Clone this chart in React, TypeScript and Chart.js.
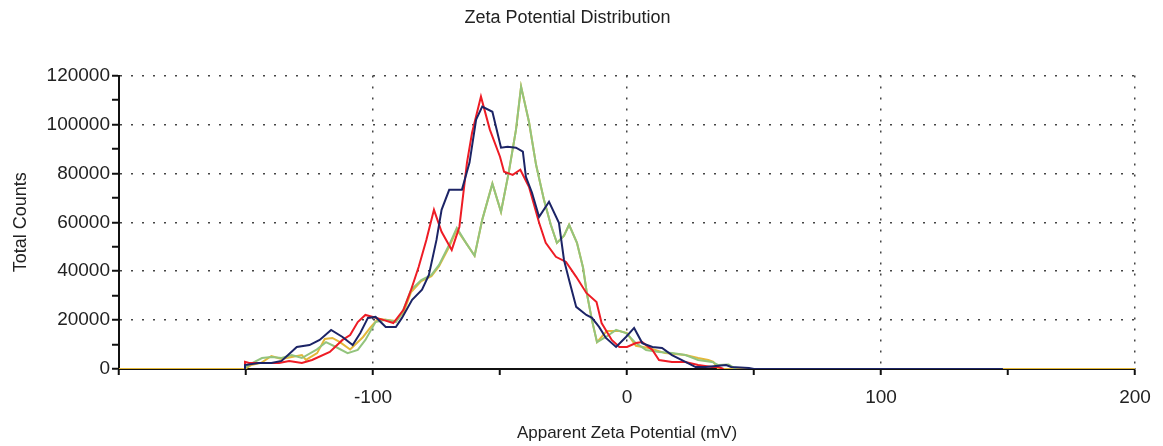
import { useEffect, useRef } from 'react';
import { Chart, registerables } from 'chart.js';

Chart.register(...registerables);

const TITLE = 'Zeta Potential Distribution';
const X_TITLE = 'Apparent Zeta Potential (mV)';
const Y_TITLE = 'Total Counts';

const X_MIN = -200;
const X_MAX = 200;
const X_TICK_STEP = 50;
const X_LABEL_VALUES = [-100, 0, 100, 200];
const X_GRID_VALUES = [-100, 0, 100, 200];

const Y_MIN = 0;
const Y_MAX = 120000;
const Y_TICK_STEP = 10000;
const Y_LABEL_VALUES = [0, 20000, 40000, 60000, 80000, 100000, 120000];
const Y_GRID_VALUES = [20000, 40000, 60000, 80000, 100000, 120000];

const navyX = [-150.5, -150.4, -145, -140, -136, -130, -125, -121, -116.5, -112, -108, -105, -102, -99, -95, -91, -88.6, -84.6, -80.7, -78, -75, -73, -70, -65, -62, -59.4, -57, -53, -49.6, -47, -43.7, -41, -39.8, -37.4, -34.6, -30.7, -26.8, -24.8, -22.8, -20, -16, -13.8, -11, -8.3, -4.3, -0.4, 2.8, 6, 10, 13.8, 17.7, 23, 27, 31, 35, 39, 41, 48, 50, 148];
const navyY = [0, 1600, 2450, 2450, 3300, 9000, 9800, 11900, 16000, 13100, 9800, 14700, 20900, 21300, 17200, 17200, 20900, 28300, 32400, 38500, 52800, 65100, 73300, 73300, 84400, 102000, 107300, 105200, 90500, 90900, 90500, 88900, 78600, 72100, 62200, 68400, 59800, 44600, 36400, 25400, 22100, 20900, 17200, 12700, 9000, 13100, 16800, 10600, 9000, 8600, 5700, 2900, 800, 800, 1200, 1600, 800, 400, 0, 0];

const redX = [-150.5, -150.4, -148.8, -137, -133, -128, -124, -117, -112, -109, -106, -103, -100, -96, -92, -88, -85, -82, -79, -76, -73, -69, -66, -63, -61, -57.5, -54, -50, -48.4, -45, -42, -38.6, -34.6, -32, -28, -24, -20, -16, -12, -10, -6, -3, 0, 3.5, 6, 10, 12.6, 17.7, 23, 28, 33.5, 36, 38];
const redY = [0, 2900, 2450, 2450, 3300, 2450, 3700, 7000, 11900, 13900, 19200, 22100, 21300, 20100, 18800, 24200, 32400, 41800, 52800, 65100, 56100, 48700, 58100, 84400, 96600, 111400, 97900, 86800, 80700, 79400, 81500, 74500, 59800, 51600, 45900, 43800, 37700, 31100, 27400, 18800, 11900, 9000, 9000, 10600, 11000, 7800, 3700, 2900, 2900, 1600, 800, 800, 0];

const greenX = [-150.5, -150, -147.6, -143.7, -140, -136, -132, -128, -122.4, -118.5, -114.6, -110, -106, -103, -99, -95, -91, -88.6, -85, -81, -77, -74, -70, -67, -63.4, -60, -57, -53, -49.6, -46.5, -43.7, -41.7, -38.6, -35.8, -32.7, -30, -27.6, -24.8, -22.8, -19.7, -17.3, -15.7, -13.8, -11.8, -8.3, -4.3, -0.4, 3.5, 7.5, 12.6, 17.7, 23, 28, 33.5, 36, 40, 43];
const greenY = [0, 800, 2450, 4500, 4900, 4500, 5700, 4500, 7800, 11000, 9000, 6500, 7800, 11900, 19200, 20100, 19200, 22900, 32400, 36400, 38500, 42600, 50800, 57700, 51600, 46300, 61000, 75800, 64300, 80700, 97900, 115500, 101100, 83500, 69200, 59000, 51600, 54500, 59000, 51600, 41400, 30300, 20000, 11000, 13100, 16000, 14700, 10600, 7800, 7000, 6500, 5700, 3700, 2900, 1600, 1800, 0];

const yellowX = [-200, -150.5, -148, -144, -140, -136, -132, -128, -126.4, -122, -119, -116, -113, -109, -104, -101, -98, -95, -91, -88, -85, -81, -77, -74, -70, -67, -63.4, -60, -57, -53, -49.6, -46.5, -43.7, -41.7, -38.6, -35.8, -32.7, -30, -27.6, -24.8, -22.8, -19.7, -17.3, -15.7, -13.8, -11.8, -8, -3, 0, 3.5, 9, 15, 23, 28, 32, 34, 36, 200];
const yellowY = [0, 0, 1600, 2500, 5300, 4100, 4900, 5700, 3700, 6500, 12300, 12700, 11000, 8000, 13000, 17000, 20500, 20100, 19600, 23000, 31500, 36000, 38000, 42000, 50000, 57000, 51600, 46300, 61000, 75800, 64300, 80700, 97900, 115500, 101100, 83500, 69200, 59000, 51600, 54500, 59000, 51600, 41400, 30300, 20000, 11000, 15500, 15500, 14700, 9500, 8500, 6500, 5700, 4500, 3700, 2900, 0, 0];

const SERIES = [
  { name: 'Run 1', xs: navyX, ys: navyY, color: '#1c2466' },
  { name: 'Run 2', xs: redX, ys: redY, color: '#ee1c25' },
  { name: 'Run 3', xs: greenX, ys: greenY, color: '#93c47d' },
  { name: 'Run 4', xs: yellowX, ys: yellowY, color: '#e3b83a' },
];

const FONT = 'Liberation Sans, Arial, sans-serif';

export default function App() {
  const ref = useRef<HTMLCanvasElement>(null);

  useEffect(() => {
    document.body.style.margin = '0';
    document.body.style.overflow = 'hidden';
    const canvas = ref.current;
    if (!canvas) return;
    const chart = new Chart(canvas, {
      type: 'scatter',
      data: {
        datasets: SERIES.map((s) => ({
          label: s.name,
          data: s.xs.map((x, i) => ({ x, y: s.ys[i] })),
          showLine: true,
          borderColor: s.color,
          backgroundColor: s.color,
          borderWidth: 2,
          pointRadius: 0,
          tension: 0,
        })),
      },
      options: {
        animation: false,
        responsive: true,
        maintainAspectRatio: false,
        layout: { padding: { left: 0, right: 28, top: 0, bottom: 0 } },
        plugins: {
          legend: { display: false },
          tooltip: { enabled: false },
          title: {
            display: true,
            text: TITLE,
            color: '#222',
            font: { family: FONT, size: 18, weight: 'normal' },
            padding: { top: 7, bottom: 47 },
          },
        },
        scales: {
          x: {
            type: 'linear',
            min: X_MIN,
            max: X_MAX,
            afterFit: (scale: any) => {
              scale.height = 77;
            },
            ticks: {
              stepSize: X_TICK_STEP,
              autoSkip: false,
              maxRotation: 0,
              padding: 11,
              color: '#222',
              font: { family: FONT, size: 19 },
              callback: (v: any) => (X_LABEL_VALUES.includes(Number(v)) ? String(v) : ''),
            },
            grid: {
              color: (ctx: any) =>
                ctx.tick && X_GRID_VALUES.includes(ctx.tick.value) ? '#444' : 'rgba(0,0,0,0)',
              lineWidth: 1.5,
              tickColor: '#111',
              tickLength: 6,
              tickWidth: 2,
            },
            border: { color: '#111', width: 2, dash: [2, 9] },
            title: {
              display: true,
              text: X_TITLE,
              color: '#222',
              font: { family: FONT, size: 17 },
              padding: { top: 0, bottom: 2 },
            },
          },
          y: {
            type: 'linear',
            min: Y_MIN,
            max: Y_MAX,
            afterFit: (scale: any) => {
              scale.width = 119;
            },
            ticks: {
              stepSize: Y_TICK_STEP,
              autoSkip: false,
              padding: 2,
              color: '#222',
              font: { family: FONT, size: 19 },
              callback: (v: any) => (Y_LABEL_VALUES.includes(Number(v)) ? String(v) : ''),
            },
            grid: {
              color: (ctx: any) =>
                ctx.tick && Y_GRID_VALUES.includes(ctx.tick.value) ? '#444' : 'rgba(0,0,0,0)',
              lineWidth: 1.5,
              tickColor: '#111',
              tickLength: 7,
              tickWidth: 2,
            },
            border: { color: '#111', width: 2, dash: [2, 9] },
            title: {
              display: true,
              text: Y_TITLE,
              color: '#222',
              font: { family: FONT, size: 18 },
              padding: { top: 10, bottom: 0 },
            },
          },
        },
      },
    });
    return () => chart.destroy();
  }, []);

  return (
    <div style={{ width: 1163, height: 446, position: 'relative' }}>
      <canvas ref={ref} />
    </div>
  );
}
